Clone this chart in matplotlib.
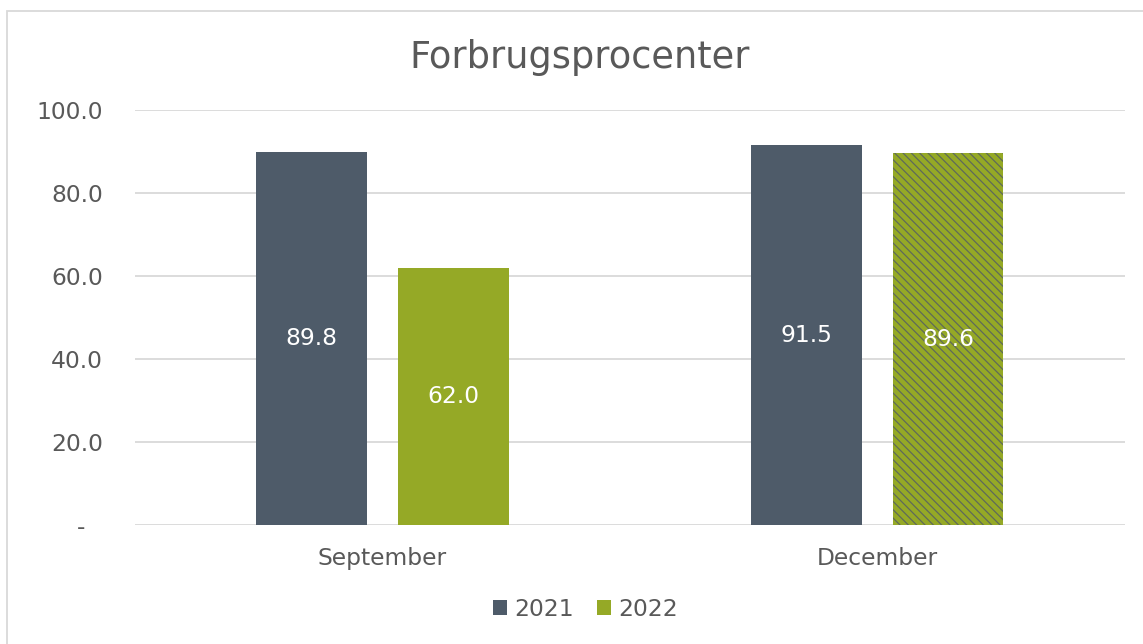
import matplotlib
matplotlib.use("Agg")
import matplotlib.pyplot as plt
from matplotlib.patches import Rectangle, Patch
from matplotlib.transforms import ScaledTranslation
import numpy as np

categories = ["September", "December"]
series_names = ["2021", "2022"]
values_2021 = [89.8, 91.5]
values_2022 = [62.0, 89.6]
yticks = [0, 20, 40, 60, 80, 100]
ytick_labels = ["-", "20.0", "40.0", "60.0", "80.0", "100.0"]
title = "Forbrugsprocenter"

dark = "#4e5b69"
green = "#95a926"
text_col = "#595959"
grid_col = "#d9d9d9"

plt.rcParams["font.family"] = ["DejaVu Sans"]
plt.rcParams["hatch.linewidth"] = 0.9

fig = plt.figure(figsize=(11.43, 6.44), dpi=100)
ax = fig.add_axes([0.118, 0.185, 0.866, 0.644])

x = np.arange(len(categories))
w = 0.224
off = 0.143
b1 = ax.bar(x - off, values_2021, width=w, color=dark, zorder=3)
b2 = ax.bar(x + off, values_2022, width=w, color=green, zorder=3)
# last bar (December 2022) is hatched
b2[1].set_hatch("\\\\\\\\")
b2[1].set_edgecolor("#5f6a5a")
b2[1].set_linewidth(0)

for bars, vals in ((b1, values_2021), (b2, values_2022)):
    for rect, v in zip(bars, vals):
        ax.text(rect.get_x() + rect.get_width() / 2, v / 2, f"{v:.1f}",
                ha="center", va="center", color="white", fontsize=16.8, zorder=4)

ax.set_xlim(-0.5, 1.5)
ax.set_ylim(0, 100)
ax.set_yticks(yticks)
ax.set_yticklabels(ytick_labels)
ax.set_xticks(x)
ax.set_xticklabels(categories)
ax.tick_params(axis="both", length=0, labelsize=16.8, colors=text_col)
ax.tick_params(axis="x", pad=16)
ax.tick_params(axis="y", pad=23)
ax.yaxis.grid(True, color=grid_col, linewidth=1.3, zorder=0)
for s in ax.spines.values():
    s.set_visible(False)

# shift the "-" zero label left as in the accounting format
zero_lbl = ax.get_yticklabels()[0]
zero_lbl.set_transform(zero_lbl.get_transform() + ScaledTranslation(-0.18, 0, fig.dpi_scale_trans))

fig.text(0.507, 0.911, title, ha="center", va="center", fontsize=26.5, color=text_col)

handles = [Patch(facecolor=dark, label=series_names[0]),
           Patch(facecolor=green, label=series_names[1])]
fig.legend(handles=handles, loc="center", bbox_to_anchor=(0.512, 0.054), ncol=2,
           frameon=False, fontsize=16.8, labelcolor=text_col,
           handlelength=0.6, handleheight=0.6, handletextpad=0.3, columnspacing=1.0)

# outer chart border
fig.patches.append(Rectangle((7 / 1143, -0.05), 1.1, 1 - 11 / 644 + 0.05,
                             transform=fig.transFigure, fill=False,
                             edgecolor="#d9d9d9", linewidth=1.3))

fig.savefig("out.png", dpi=100)
